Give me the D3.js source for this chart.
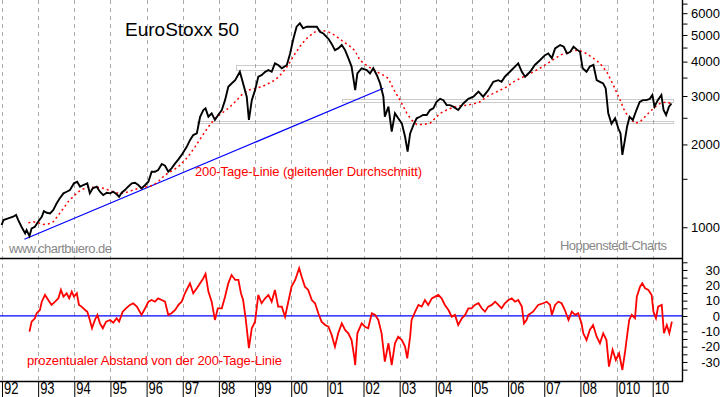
<!DOCTYPE html>
<html>
<head>
<meta charset="utf-8">
<script src="https://cdn.jsdelivr.net/npm/d3@7"></script>
<style>
  body { margin: 0; background: #fff; }
  text { font-family: "Liberation Sans", Arial, sans-serif; }
</style>
</head>
<body>
<div id="chart"></div>
<script>
// EuroStoxx 50 with 200-day line (decimal years)
const priceDates = [1991.99,1992.04,1992.17,1992.31,1992.39,1992.45,1992.54,1992.64,1992.68,1992.76,1992.82,1992.91,
  1993.00,1993.10,1993.16,1993.24,1993.33,1993.42,1993.51,1993.60,1993.70,1993.79,1993.88,1993.99,
  1994.08,1994.16,1994.25,1994.36,1994.43,1994.51,1994.62,1994.71,1994.80,1994.90,1994.99,
  1995.08,1995.17,1995.24,1995.31,1995.40,1995.49,1995.59,1995.68,1995.77,1995.86,1995.96,
  1996.05,1996.14,1996.23,1996.32,1996.42,1996.51,1996.60,1996.69,1996.79,1996.88,1996.97,
  1997.11,1997.20,1997.29,1997.39,1997.48,1997.57,1997.63,1997.71,1997.80,1997.89,1997.98,
  1998.08,1998.17,1998.26,1998.35,1998.45,1998.58,1998.67,1998.77,1998.83,1998.91,
  1999.00,1999.09,1999.18,1999.28,1999.37,1999.46,1999.55,1999.64,1999.74,1999.88,1999.97,
  2000.06,2000.15,2000.24,2000.33,2000.43,2000.57,2000.71,2000.80,2000.89,
  2001.03,2001.12,2001.21,2001.30,2001.40,2001.49,2001.58,2001.67,2001.77,2001.83,2001.95,
  2002.09,2002.18,2002.27,2002.37,2002.46,2002.55,2002.59,2002.69,2002.78,2002.87,2002.96,
  2003.06,2003.15,2003.22,2003.29,2003.38,2003.47,2003.56,2003.65,2003.75,2003.84,2003.93,
  2004.02,2004.12,2004.21,2004.30,2004.39,2004.48,2004.62,2004.76,2004.90,
  2005.04,2005.18,2005.31,2005.45,2005.59,2005.73,2005.82,2005.91,
  2006.05,2006.19,2006.28,2006.38,2006.47,2006.61,2006.74,2006.88,
  2007.02,2007.11,2007.21,2007.30,2007.44,2007.54,2007.63,2007.72,2007.81,2007.92,2007.99,
  2008.06,2008.17,2008.26,2008.36,2008.45,2008.54,2008.63,2008.70,2008.77,2008.86,2008.96,
  2009.05,2009.11,2009.16,2009.23,2009.29,2009.36,2009.45,2009.55,2009.64,2009.73,2009.82,2009.92,2009.99,
  2010.05,2010.14,2010.24,2010.30,2010.37,2010.45,2010.52];
const priceValues = [1019,1062,1077,1092,1108,1062,1004,950,977,929,991,1004,
  1047,1092,1145,1129,1123,1155,1221,1274,1328,1346,1365,1444,
  1463,1404,1424,1444,1328,1385,1404,1346,1309,1335,1328,
  1346,1318,1291,1335,1365,1404,1444,1451,1424,1385,1424,
  1463,1591,1591,1614,1698,1673,1591,1637,1707,1766,1832,
  1960,2073,2163,2194,2521,2667,2705,2521,2595,2455,2558,
  2667,2897,3239,3331,3424,3674,3331,2983,2455,2897,
  3151,3525,3570,3674,3724,3674,3944,3890,3784,3890,4282,
  4845,5359,5510,5283,5359,5359,5359,5130,5063,
  4845,4640,4405,4468,4596,4405,4118,3837,3151,3621,3784,
  3724,3621,3784,3570,3331,2983,2521,2744,2225,2595,2489,
  2386,2132,1884,2194,2349,2489,2521,2558,2558,2667,2705,
  2857,2929,2897,2780,2780,2744,2667,2818,2929,
  2983,3110,2983,3151,3377,3424,3377,3525,
  3674,3837,3944,3674,3525,3674,3890,4045,
  4221,4282,4118,4468,4596,4531,4282,4343,4531,4405,4343,
  3784,3674,3837,3890,3424,3377,3331,3196,2595,2376,2489,
  2285,2194,1832,2073,2318,2521,2455,2667,2857,2897,2897,2929,3027,
  2744,2897,3027,2667,2558,2744,2818];

const maDates = [1992.73,1992.87,1993.00,1993.14,1993.28,1993.42,1993.56,1993.70,1993.83,1993.97,
  1994.11,1994.25,1994.39,1994.53,1994.66,1994.80,1994.94,1995.08,1995.22,1995.36,1995.49,1995.63,1995.77,1995.91,
  1996.05,1996.19,1996.32,1996.46,1996.60,1996.74,1996.88,1996.97,1997.15,1997.34,1997.52,1997.71,1997.89,
  1998.08,1998.26,1998.45,1998.63,1998.81,1999.00,1999.18,1999.37,1999.55,1999.74,1999.92,
  2000.11,2000.29,2000.47,2000.66,2000.84,2001.03,2001.21,2001.40,2001.58,2001.67,2001.77,2001.90,
  2002.13,2002.37,2002.55,2002.69,2002.82,2003.01,2003.20,2003.33,2003.47,2003.65,2003.84,2003.98,
  2004.12,2004.30,2004.48,2004.67,2004.86,2005.04,2005.22,2005.41,2005.59,2005.78,2005.96,
  2006.15,2006.33,2006.51,2006.61,2006.88,2007.16,2007.44,2007.72,2007.94,
  2008.17,2008.35,2008.54,2008.73,2008.91,2009.10,2009.23,2009.37,2009.51,2009.65,2009.83,
  2010.02,2010.20,2010.39,2010.53];
const maValues = [1038,1047,1038,1024,1027,1047,1108,1171,1238,1291,
  1346,1377,1404,1397,1397,1385,1365,1346,1328,1328,1346,1365,1385,1397,
  1404,1424,1463,1526,1578,1614,1660,1707,1805,1960,2132,2318,2489,
  2595,2705,2857,3027,3151,3196,3239,3331,3424,3621,3890,
  4282,4640,4913,5130,5205,5130,4983,4773,4596,4500,4370,4045,
  3837,3674,3570,3474,3196,2897,2595,2455,2365,2365,2386,2489,
  2595,2667,2730,2760,2780,2806,2857,2983,3065,3151,3239,
  3377,3474,3570,3621,3784,3994,4221,4370,4405,
  4282,4118,3944,3674,3287,2897,2631,2489,2386,2417,2558,
  2705,2818,2857,2806];

// prozentualer Abstand (%) von der 200-Tage-Linie
const devDates = [1992.76,1992.82,1992.91,1992.96,1993.05,1993.10,1993.19,1993.28,1993.37,1993.47,1993.56,1993.63,
  1993.70,1993.79,1993.86,1993.93,1993.99,1994.07,1994.13,1994.20,1994.30,1994.36,1994.43,1994.49,1994.57,
  1994.64,1994.71,1994.79,1994.88,1994.99,1995.08,1995.17,1995.24,1995.34,1995.43,1995.54,1995.63,1995.73,
  1995.86,1995.96,1996.05,1996.14,1996.23,1996.32,1996.42,1996.51,1996.60,1996.69,1996.79,1996.88,1996.97,
  1997.06,1997.20,1997.29,1997.39,1997.48,1997.57,1997.63,1997.71,1997.80,1997.89,1997.97,
  1998.08,1998.17,1998.26,1998.35,1998.45,1998.54,1998.61,1998.67,1998.74,1998.83,1998.91,
  1999.00,1999.09,1999.18,1999.28,1999.37,1999.46,1999.55,1999.64,1999.74,1999.83,1999.92,
  2000.01,2000.11,2000.22,2000.29,2000.38,2000.47,2000.57,2000.66,2000.75,2000.84,2000.94,
  2001.03,2001.12,2001.21,2001.30,2001.40,2001.49,2001.58,2001.67,2001.75,2001.77,2001.83,2001.95,
  2002.04,2002.13,2002.23,2002.32,2002.41,2002.50,2002.59,2002.69,2002.78,2002.87,2002.96,
  2003.06,2003.15,2003.21,2003.29,2003.33,2003.43,2003.52,2003.61,2003.70,2003.79,2003.89,2003.98,
  2004.07,2004.16,2004.25,2004.35,2004.44,2004.53,2004.62,2004.72,2004.81,2004.90,2004.99,
  2005.08,2005.18,2005.27,2005.36,2005.45,2005.55,2005.64,2005.73,2005.82,2005.91,
  2006.01,2006.10,2006.19,2006.28,2006.38,2006.44,2006.51,2006.56,2006.69,2006.83,2006.97,
  2007.07,2007.16,2007.21,2007.30,2007.39,2007.48,2007.57,2007.67,2007.76,2007.85,2007.94,
  2008.03,2008.08,2008.17,2008.26,2008.35,2008.45,2008.54,2008.63,2008.72,2008.79,2008.89,2008.98,
  2009.07,2009.16,2009.23,2009.30,2009.35,2009.42,2009.51,2009.56,2009.65,2009.71,2009.79,2009.88,2009.97,
  2010.02,2010.09,2010.15,2010.25,2010.31,2010.39,2010.46,2010.53];
const devValues = [-10.2,-3.7,-1.5,1.8,3.9,9.3,13.7,10.4,7.2,9.3,11.5,17,
  12.6,14.8,11.5,15.9,12.6,14.8,7.2,6.1,3.9,2.8,-2.6,-8.0,-2.6,
  0.7,-4.8,-8.0,-3.7,-2.6,-4.4,-1.5,-3.7,2.8,5.0,7.2,8.3,6.1,
  0.7,5.0,9.3,10.4,9.3,11.5,10.4,9.3,0.7,1.8,3.9,7.2,9.3,
  14.8,21.3,14.8,18.1,21.3,24.6,27.4,15.9,9.3,-2.6,5.0,
  5.0,12.6,21.3,26.7,23.5,23.5,14.8,10.4,-1.5,-21,-8.0,
  -3.7,13.7,8.3,11.5,13.7,9.3,17,6.1,6.1,-0.5,9.3,
  19.1,23.5,31.1,25.6,19.1,17,10.4,8.3,1.8,-3.7,-5.9,
  -7.0,-12.4,-20,-11.3,-4.8,-9.1,-11.3,-15.7,-27.6,-32,-11.3,-4.8,
  -7.0,-8.0,1.8,0.7,-2.6,-11.3,-29.8,-17.8,-32,-17.8,-13.5,
  -15.7,-20,-27.6,-13.5,-2.6,2.8,7.2,6.1,10.4,7.2,11.5,12.6,
  13.7,11.5,7.2,3.9,-0.5,0.7,-5.9,-1.5,0.7,5.0,5.0,
  7.2,8.3,5.0,2.8,6.1,7.2,9.3,7.2,5.0,8.3,
  10.4,11.5,9.3,10.4,6.1,-4.8,-2.6,0.7,2.8,7.2,8.3,
  9.3,7.2,0.7,7.2,9.3,8.3,3.9,-2.6,2.8,0.7,1.8,
  -4.8,-11.3,-15.7,-9.1,-5.9,-13.5,-17.8,-11.3,-15.7,-33,-22,-28.7,
  -24.3,-35.2,-24.3,-11.3,-2.6,0.7,-1.5,12.6,19.1,21.3,18.1,17,13.7,
  2.8,-1.5,6.1,7.2,-11.3,-5.9,-11.3,-3.7];

// support / resistance bands
const bandLows = [3742, 2853, 2404];
const bandHighs = [3891, 2918, 2437];
const bandFrom = [1998.47, 2001.41, 1997.39];
const bandTo = [2008.75, 2010.56, 2010.56];

// trend line endpoints
const trendDates = [1992.62, 2002.55];
const trendValues = [904, 3199];

// axes
const years = d3.range(1992, 2011);
const yearLabels = ["92","93","94","95","96","97","98","99","00","01","02","03","04","05","06","07","08","010","10"];
const priceTicks = [1000, 2000, 3000, 4000, 5000, 6000];
const priceMinor = [1500, 2500, 3500, 4500, 5500, 6500];
const devTicks = [30, 20, 10, 0, -10, -20, -30];
const devMinor = [35, 25, 15, 5, -5, -15, -25, -35];

const W = 723, H = 397;
const plotRight = 682, topBottom = 258, botBottom = 381;

const svg = d3.select("#chart").append("svg")
  .attr("width", W).attr("height", H)
  .style("display", "block");

const x = d3.scaleLinear().domain([1991.945, 2010.81]).range([0, plotRight]);
const yTop = d3.scaleLog().domain([773, 6700]).range([topBottom, 0]);
const yBot = d3.scaleLinear().domain([-42.4, 37.8]).range([botBottom, topBottom]);

const defs = svg.append("defs");
defs.append("clipPath").attr("id", "clipTop").append("rect")
  .attr("x", 0).attr("y", 0).attr("width", plotRight).attr("height", topBottom);
defs.append("clipPath").attr("id", "clipBot").append("rect")
  .attr("x", 0).attr("y", topBottom).attr("width", plotRight).attr("height", botBottom - topBottom);

// dashed year gridlines
svg.append("g").selectAll("line").data(years).join("line")
  .attr("x1", d => Math.round(x(d)) + 0.5).attr("x2", d => Math.round(x(d)) + 0.5)
  .attr("y1", 0).attr("y2", botBottom)
  .attr("stroke", "#aaa").attr("stroke-dasharray", "4,4");

// bands
const topPanel = svg.append("g").attr("clip-path", "url(#clipTop)");
topPanel.selectAll("rect.band").data(bandLows).join("rect")
  .attr("class", "band")
  .attr("x", (d, i) => Math.round(x(bandFrom[i])) + 0.5)
  .attr("y", (d, i) => Math.round(yTop(bandHighs[i])) + 0.5)
  .attr("width", (d, i) => Math.round(x(bandTo[i]) - x(bandFrom[i])))
  .attr("height", (d, i) => Math.max(1, Math.round(yTop(bandLows[i]) - yTop(bandHighs[i]))))
  .attr("fill", "none").attr("stroke", "#999").attr("stroke-dasharray", "1,1");

// trend line
topPanel.append("line")
  .attr("x1", x(trendDates[0])).attr("y1", yTop(trendValues[0]))
  .attr("x2", x(trendDates[1])).attr("y2", yTop(trendValues[1]))
  .attr("stroke", "#0000ff").attr("stroke-width", 1.2);

const priceLine = d3.line().x(d => x(d[0])).y(d => yTop(d[1]));

topPanel.append("path")
  .datum(d3.zip(maDates, maValues))
  .attr("d", priceLine)
  .attr("fill", "none").attr("stroke", "#ff0000").attr("stroke-width", 1.5)
  .attr("stroke-dasharray", "2,3");

topPanel.append("path")
  .datum(d3.zip(priceDates, priceValues))
  .attr("d", priceLine)
  .attr("fill", "none").attr("stroke", "#000").attr("stroke-width", 1.9)
  .attr("stroke-linejoin", "miter");

// bottom panel
const botPanel = svg.append("g").attr("clip-path", "url(#clipBot)");
botPanel.append("line")
  .attr("x1", 0).attr("x2", plotRight)
  .attr("y1", yBot(0)).attr("y2", yBot(0))
  .attr("stroke", "#0000ff").attr("stroke-width", 1.2);

botPanel.append("path")
  .datum(d3.zip(devDates, devValues))
  .attr("d", d3.line().x(d => x(d[0])).y(d => yBot(d[1])))
  .attr("fill", "none").attr("stroke", "#ff0000").attr("stroke-width", 1.8);

// panel separator
svg.append("line").attr("x1", 0).attr("x2", plotRight + 1).attr("y1", topBottom + 0.5).attr("y2", topBottom + 0.5)
  .attr("stroke", "#000").attr("stroke-width", 1.4);

// right axes
function styleRight(g) {
  g.select(".domain").remove();
  g.selectAll(".tick line").attr("stroke", "#000");
  g.selectAll(".tick text")
    .attr("x", 720 - plotRight - 0.5).attr("text-anchor", "end")
    .attr("font-size", 13).attr("fill", "#000")
    .attr("font-family", "'Liberation Sans', Arial, sans-serif");
}
const fmtTop = d => priceTicks.includes(d) ? String(d) : "";
svg.append("g").attr("transform", `translate(${plotRight + 0.5},0)`)
  .call(d3.axisRight(yTop).tickValues(priceTicks.concat(priceMinor)).tickFormat(fmtTop).tickSize(5))
  .call(styleRight);
const fmtBot = d => devTicks.includes(d) ? String(d) : "";
svg.append("g").attr("transform", `translate(${plotRight + 0.5},0)`)
  .call(d3.axisRight(yBot).tickValues(devTicks.concat(devMinor)).tickFormat(fmtBot).tickSize(5))
  .call(styleRight);

svg.append("line").attr("x1", plotRight + 0.5).attr("x2", plotRight + 0.5).attr("y1", 0).attr("y2", botBottom + 1)
  .attr("stroke", "#000").attr("stroke-width", 1.4);

// bottom axis
const xAxis = svg.append("g").attr("transform", `translate(0,${botBottom + 0.5})`)
  .call(d3.axisBottom(x).tickValues(years).tickFormat((d, i) => yearLabels[i]).tickSize(16).tickSizeOuter(0));
xAxis.select(".domain").attr("d", `M0,0H${plotRight + 1}`).attr("stroke", "#000").attr("stroke-width", 1.4);
xAxis.selectAll(".tick line").attr("stroke", "#000");
xAxis.selectAll(".tick text")
  .attr("x", 0).attr("y", 0).attr("dy", null)
  .attr("text-anchor", "start")
  .attr("transform", "translate(1.5,12.5) scale(1,1.2)")
  .attr("font-size", 13).attr("fill", "#000")
  .attr("font-family", "'Liberation Sans', Arial, sans-serif");

// texts
svg.append("text").attr("x", 125).attr("y", 36)
  .attr("font-size", 19).attr("fill", "#000").text("EuroStoxx 50");
svg.append("text").attr("x", 195).attr("y", 176)
  .attr("font-size", 13).attr("fill", "#ff0000")
  .attr("textLength", 227).attr("lengthAdjust", "spacing")
  .text("200-Tage-Linie (gleitender Durchschnitt)");
svg.append("text").attr("x", 9).attr("y", 252.5)
  .attr("font-size", 13).attr("fill", "#888")
  .attr("textLength", 103).attr("lengthAdjust", "spacing")
  .text("www.chartbuero.de");
svg.append("text").attr("x", 560).attr("y", 250)
  .attr("font-size", 13).attr("fill", "#888")
  .attr("textLength", 107).attr("lengthAdjust", "spacing")
  .text("Hoppenstedt-Charts");
svg.append("text").attr("x", 27).attr("y", 364.5)
  .attr("font-size", 13).attr("fill", "#ff0000")
  .attr("textLength", 255).attr("lengthAdjust", "spacing")
  .text("prozentualer Abstand von der 200-Tage-Linie");
</script>
</body>
</html>
